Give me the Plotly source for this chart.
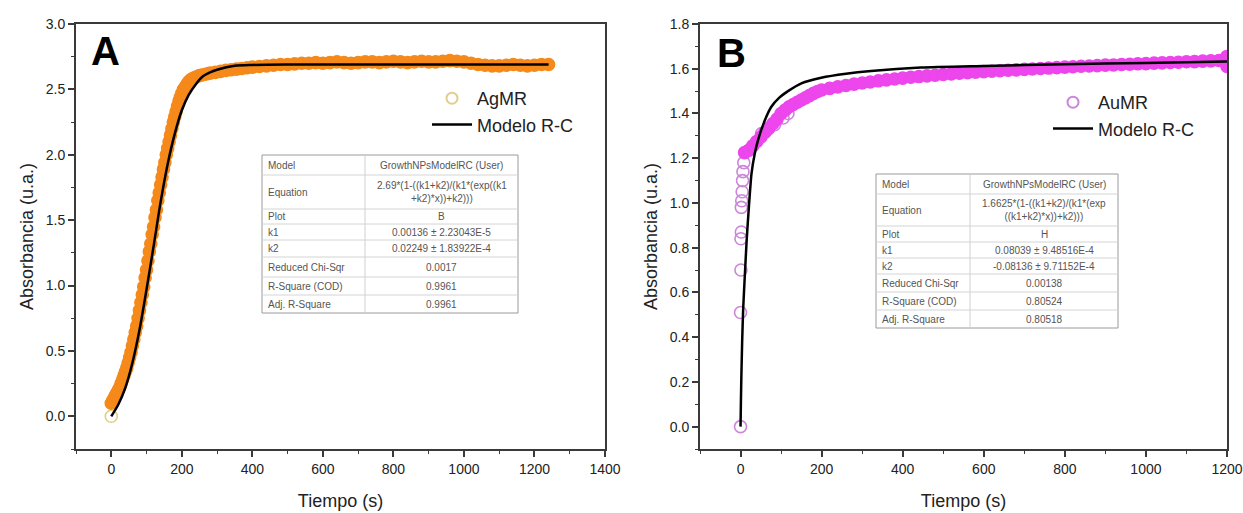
import plotly.graph_objects as go

# ---------------- data ----------------
# Panel A : AgMR experimental data (first reading at the origin, then the dense run)
agmr_t = [0, 0, 4, 8, 12, 16, 20, 24, 28, 32, 36, 40, 44, 48, 52, 56, 60, 64, 68, 72, 76,
          80, 84, 88, 92, 96, 100, 104, 108, 112, 116, 120, 124, 128, 132, 136, 140, 144,
          148, 152, 156, 160, 164, 168, 172, 176, 180, 184, 188, 192, 196, 200, 205, 210,
          215, 220, 226, 232, 240, 250, 260, 270, 280, 295, 310, 325, 340, 355, 370, 385,
          400, 420, 440, 460, 480, 500, 520, 540, 560, 580, 600, 620, 640, 660, 680, 700,
          720, 740, 760, 780, 800, 820, 840, 860, 880, 900, 920, 940, 960, 980, 1000, 1020,
          1040, 1060, 1080, 1100, 1120, 1140, 1160, 1180, 1200, 1220, 1240]
agmr_a = [0.00, 0.10, 0.12, 0.14, 0.16, 0.18, 0.20, 0.22, 0.25, 0.28, 0.31, 0.34, 0.37, 0.41,
          0.45, 0.49, 0.54, 0.59, 0.64, 0.69, 0.75, 0.81, 0.87, 0.93, 0.99, 1.06, 1.12, 1.19,
          1.26, 1.32, 1.39, 1.45, 1.52, 1.58, 1.65, 1.71, 1.77, 1.83, 1.89, 1.94, 2.00, 2.05,
          2.10, 2.15, 2.20, 2.25, 2.29, 2.33, 2.37, 2.41, 2.44, 2.47, 2.50, 2.52, 2.54, 2.56,
          2.575, 2.585, 2.595, 2.605, 2.612, 2.618, 2.624, 2.63, 2.638, 2.645, 2.65, 2.655,
          2.66, 2.665, 2.67, 2.675, 2.68, 2.685, 2.69, 2.69, 2.695, 2.70, 2.70, 2.705, 2.70,
          2.705, 2.71, 2.705, 2.70, 2.705, 2.71, 2.71, 2.705, 2.71, 2.715, 2.71, 2.705, 2.71,
          2.715, 2.71, 2.71, 2.715, 2.72, 2.715, 2.71, 2.70, 2.69, 2.685, 2.68, 2.68, 2.685,
          2.69, 2.685, 2.68, 2.685, 2.69, 2.69]
# Panel A : R-C model curve
modA_t = [0, 20, 40, 60, 80, 100, 120, 140, 160, 180, 200, 220, 240, 260, 280, 300, 350,
          400, 500, 700, 1000, 1240]
modA_a = [0.00, 0.09, 0.22, 0.41, 0.66, 0.97, 1.30, 1.64, 1.93, 2.16, 2.34, 2.46, 2.54,
          2.60, 2.63, 2.65, 2.68, 2.687, 2.69, 2.69, 2.69, 2.69]

# Panel B : AuMR experimental data
# isolated readings (drawn as separate rings in the picture)
aumr_sparse_t = [0, 0, 1, 1, 2, 2, 3, 4, 5, 6, 8, 52, 68, 84, 105, 117]
aumr_sparse_a = [0.00, 0.51, 0.70, 0.84, 0.87, 0.98, 1.01, 1.05, 1.10, 1.14, 1.18, 1.31, 1.33,
                 1.35, 1.38, 1.40]
# dense run of readings (merges into a solid band)
aumr_band_t = [10, 20, 30, 40, 50, 60, 70, 80, 90, 100, 110, 120, 130, 140, 150, 160, 170,
               180, 190, 200, 220, 240, 260, 280, 300, 320, 340, 360, 380, 400, 420, 440, 460,
               480, 500, 520, 540, 560, 580, 600, 620, 640, 660, 680, 700, 720, 740, 760, 780,
               800, 820, 840, 860, 880, 900, 920, 940, 960, 980, 1000, 1020, 1040, 1060, 1080,
               1100, 1120, 1140, 1160, 1180, 1200, 1200, 1200]
aumr_band_a = [1.225, 1.235, 1.255, 1.275, 1.295, 1.315, 1.335, 1.355, 1.375, 1.40, 1.415,
               1.43, 1.44, 1.45, 1.46, 1.47, 1.48, 1.49, 1.498, 1.505, 1.512, 1.519, 1.525,
               1.531, 1.536, 1.541, 1.546, 1.550, 1.554, 1.558, 1.562, 1.565, 1.568, 1.571,
               1.574, 1.577, 1.580, 1.582, 1.585, 1.587, 1.589, 1.591, 1.593, 1.595, 1.597,
               1.599, 1.601, 1.603, 1.605, 1.607, 1.609, 1.611, 1.612, 1.614, 1.616, 1.617,
               1.619, 1.620, 1.622, 1.623, 1.625, 1.626, 1.628, 1.629, 1.631, 1.632, 1.634,
               1.635, 1.637, 1.638, 1.61, 1.655]
# Panel B : R-C model curve
modB_t = [0, 1, 2, 4, 6.6, 10.7, 15, 20.5, 27, 35, 43, 60, 76, 95, 117, 150, 199, 260, 322,
          445, 600, 800, 1000, 1200]
modB_a = [0.00, 0.12, 0.22, 0.38, 0.53, 0.68, 0.83, 0.98, 1.13, 1.22, 1.28, 1.37, 1.43, 1.47,
          1.50, 1.535, 1.56, 1.578, 1.59, 1.605, 1.612, 1.62, 1.626, 1.632]

# fit tables
tab_keys = ["Model", "Equation", "Plot", "k1", "k2", "Reduced Chi-Sqr", "R-Square (COD)", "Adj. R-Square"]
tabA_vals = ["GrowthNPsModelRC (User)", "2.69*(1-((k1+k2)/(k1*(exp((k1<br>+k2)*x))+k2)))", "B",
             "0.00136 ± 2.23043E-5", "0.02249 ± 1.83922E-4", "0.0017", "0.9961", "0.9961"]
tabB_vals = ["GrowthNPsModelRC (User)", "1.6625*(1-((k1+k2)/(k1*(exp<br>((k1+k2)*x))+k2)))", "H",
             "0.08039 ± 9.48516E-4", "-0.08136 ± 9.71152E-4", "0.00138", "0.80524", "0.80518"]

# ---------------- figure ----------------
W, H = 1243, 513
FONT = "Liberation Sans, Arial, sans-serif"
ORANGE = "#F5891A"
TAN = "#E3CC8C"
MAGENTA = "#EC46EC"
LILAC = "#CC86DA"


def px(x):
    return x / W


def py(y):
    return 1 - y / H


fig = go.Figure()

# Panel A
nA = len(agmr_t)
colA = [TAN] + [ORANGE] * (nA - 1)
fig.add_trace(go.Scatter(x=agmr_t, y=agmr_a, mode="markers", xaxis="x", yaxis="y",
                         marker=dict(symbol=["circle-open"] + ["circle"] * (nA - 1), size=12,
                                     color=colA, line=dict(width=1.6, color=colA)),
                         showlegend=False, hoverinfo="skip"))
fig.add_trace(go.Scatter(x=[None], y=[None], mode="markers", name="AgMR", xaxis="x", yaxis="y",
                         marker=dict(symbol="circle-open", size=11, color=TAN, line=dict(width=2)),
                         legend="legend"))
fig.add_trace(go.Scatter(x=modA_t, y=modA_a, mode="lines", name="Modelo R-C", xaxis="x", yaxis="y",
                         line=dict(color="black", width=2.5, shape="spline", smoothing=0.8),
                         legend="legend"))

# Panel B
bt = aumr_sparse_t + aumr_band_t
ba = aumr_sparse_a + aumr_band_a
nS, nB = len(aumr_sparse_t), len(aumr_band_t)
colB = [LILAC] * nS + [MAGENTA] * nB
fig.add_trace(go.Scatter(x=bt, y=ba, mode="markers", xaxis="x2", yaxis="y2",
                         marker=dict(symbol=["circle-open"] * nS + ["circle"] * nB, size=12,
                                     color=colB, line=dict(width=1.6, color=colB)),
                         showlegend=False, hoverinfo="skip"))
fig.add_trace(go.Scatter(x=[None], y=[None], mode="markers", name="AuMR", xaxis="x2", yaxis="y2",
                         marker=dict(symbol="circle-open", size=11, color=LILAC, line=dict(width=2)),
                         legend="legend2"))
fig.add_trace(go.Scatter(x=modB_t, y=modB_a, mode="lines", name="Modelo R-C", xaxis="x2", yaxis="y2",
                         line=dict(color="black", width=2.5, shape="spline", smoothing=0.6),
                         legend="legend2"))

AX = "#3a3a3a"
tickfont = dict(family=FONT, size=14, color="#222")
titlefont = dict(family=FONT, size=18, color="#222")


def xax(dom, rng, title, anchor):
    return dict(domain=dom, range=rng, dtick=200, tick0=0, ticks="outside", ticklen=6, tickwidth=1.5,
                tickcolor=AX, showline=True, linecolor=AX, linewidth=1.8, mirror=True, anchor=anchor,
                showgrid=False, zeroline=False, tickfont=tickfont, automargin=False,
                minor=dict(dtick=100, tick0=0, ticks="outside", ticklen=3, tickwidth=1.3, tickcolor=AX),
                title=dict(text=title, font=titlefont, standoff=19))


def yax(dom, rng, dt, mdt, title, anchor):
    return dict(domain=dom, range=rng, dtick=dt, tick0=0, ticks="outside", ticklen=6, tickwidth=1.5,
                tickcolor=AX, showline=True, linecolor=AX, linewidth=1.8, mirror=True,
                showgrid=False, zeroline=False, tickfont=tickfont, tickformat=".1f", anchor=anchor,
                automargin=False,
                minor=dict(dtick=mdt, tick0=0, ticks="outside", ticklen=3, tickwidth=1.3, tickcolor=AX),
                title=dict(text=title, font=titlefont, standoff=8))


def mirror_x(over, anchor, rng):
    return dict(overlaying=over, anchor=anchor, side="top", range=rng, dtick=200, tick0=0,
                ticks="inside", ticklen=6, tickwidth=1.5, tickcolor=AX, showticklabels=False,
                showline=False, showgrid=False, zeroline=False, automargin=False,
                minor=dict(dtick=100, tick0=0, ticks="inside", ticklen=3, tickwidth=1.3, tickcolor=AX))


def mirror_y(over, anchor, rng, dt, mdt):
    return dict(overlaying=over, anchor=anchor, side="right", range=rng, dtick=dt, tick0=0,
                ticks="inside", ticklen=6, tickwidth=1.5, tickcolor=AX, showticklabels=False,
                showline=False, showgrid=False, zeroline=False, automargin=False,
                minor=dict(dtick=mdt, tick0=0, ticks="inside", ticklen=3, tickwidth=1.3, tickcolor=AX))


ydom = [py(449), py(24)]
xdomA = [px(76), px(605)]
xdomB = [px(700), px(1227)]
rxA, ryA = [-100, 1400], [-0.25, 3.0]
rxB, ryB = [-100, 1200], [-0.1, 1.8]

legfont = dict(family=FONT, size=18, color="#222")

fig.update_layout(
    width=W, height=H, margin=dict(l=0, r=0, t=0, b=0, autoexpand=False),
    paper_bgcolor="white", plot_bgcolor="white",
    font=dict(family=FONT),
    xaxis=xax(xdomA, rxA, "Tiempo (s)", "y"),
    yaxis=yax(ydom, ryA, 0.5, 0.25, "Absorbancia (u.a.)", "x"),
    xaxis2=xax(xdomB, rxB, "Tiempo (s)", "y2"),
    yaxis2=yax(ydom, ryB, 0.2, 0.1, "Absorbancia (u.a.)", "x2"),
    xaxis3=mirror_x("x", "y", rxA),
    yaxis3=mirror_y("y", "x", ryA, 0.5, 0.25),
    xaxis4=mirror_x("x2", "y2", rxB),
    yaxis4=mirror_y("y2", "x2", ryB, 0.2, 0.1),
    legend=dict(x=px(427), y=py(80), xanchor="left", yanchor="top", font=legfont,
                bgcolor="rgba(0,0,0,0)", tracegroupgap=0, itemwidth=40),
    legend2=dict(x=px(1048), y=py(84), xanchor="left", yanchor="top", font=legfont,
                 bgcolor="rgba(0,0,0,0)", tracegroupgap=0, itemwidth=40),
)

# panel letters
fig.add_annotation(x=px(106), y=py(51), xref="paper", yref="paper", text="<b>A</b>", showarrow=False,
                   xanchor="center", yanchor="middle", font=dict(family=FONT, size=40, color="black"))
fig.add_annotation(x=px(731), y=py(53), xref="paper", yref="paper", text="<b>B</b>", showarrow=False,
                   xanchor="center", yanchor="middle", font=dict(family=FONT, size=40, color="black"))


def add_table(left, right, div, bounds, keys, vals):
    tf = dict(family=FONT, size=10, color="#555")
    fig.add_shape(type="rect", xref="paper", yref="paper", x0=px(left), x1=px(right),
                  y0=py(bounds[-1]), y1=py(bounds[0]), line=dict(color="#9a9a9a", width=1),
                  fillcolor="white", layer="above")
    fig.add_shape(type="line", xref="paper", yref="paper", x0=px(div), x1=px(div),
                  y0=py(bounds[-1]), y1=py(bounds[0]), line=dict(color="#d0d0d0", width=1))
    for b in bounds[1:-1]:
        fig.add_shape(type="line", xref="paper", yref="paper", x0=px(left), x1=px(right),
                      y0=py(b), y1=py(b), line=dict(color="#d4d4d4", width=1))
    for i, (k, v) in enumerate(zip(keys, vals)):
        yc = (bounds[i] + bounds[i + 1]) / 2
        fig.add_annotation(x=px(left + 4), y=py(yc), xref="paper", yref="paper", text=k,
                           showarrow=False, xanchor="left", yanchor="middle", font=tf)
        fig.add_annotation(x=px((div + right) / 2), y=py(yc), xref="paper", yref="paper", text=v,
                           showarrow=False, xanchor="center", yanchor="middle", font=tf,
                           align="center")


add_table(262, 518, 365, [155, 175, 209, 224, 240, 257, 277, 295, 313], tab_keys, tabA_vals)
add_table(876, 1118, 970, [174, 194, 226, 242, 258, 274, 292, 310, 328], tab_keys, tabB_vals)

fig.write_html("out.html")
